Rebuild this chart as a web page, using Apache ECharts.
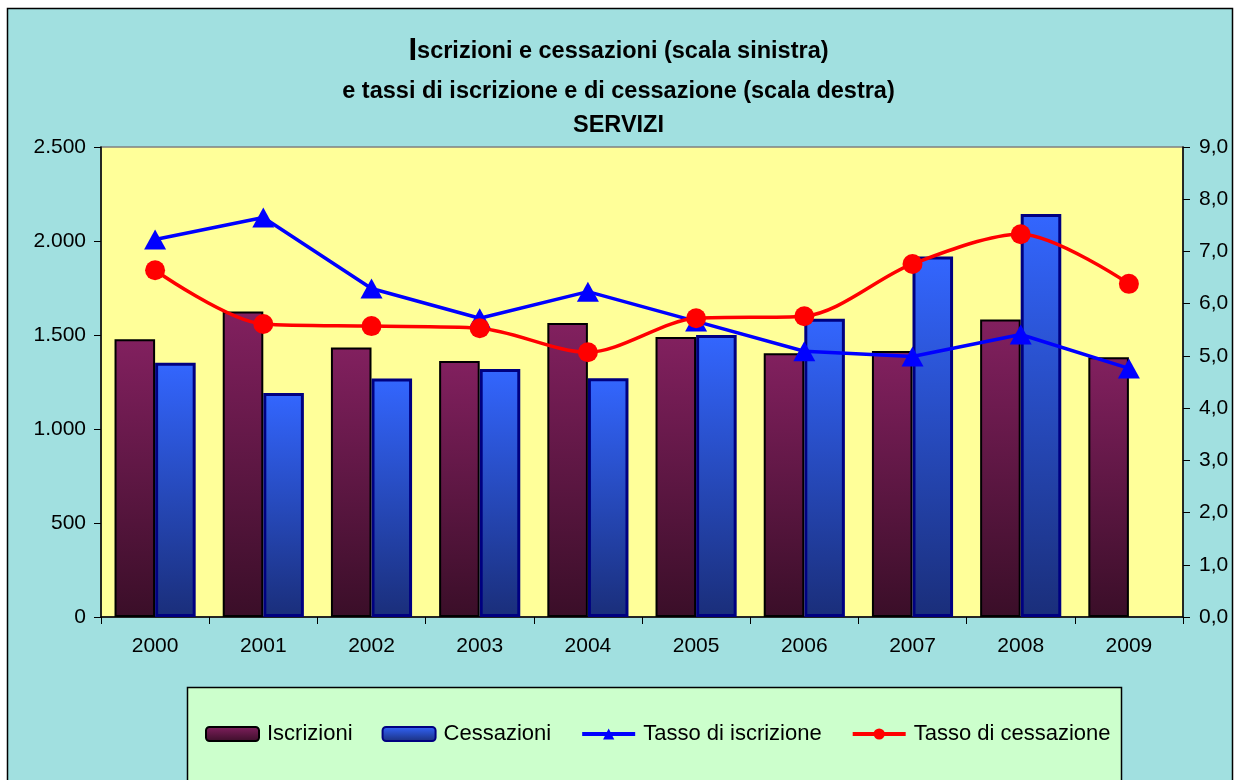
<!DOCTYPE html>
<html>
<head>
<meta charset="utf-8">
<script src="https://cdn.jsdelivr.net/npm/echarts@6/dist/echarts.min.js"></script>
<style>
html,body{margin:0;padding:0;background:#ffffff;}
#chart{width:1237px;height:780px;}
</style>
</head>
<body>
<div id="chart"></div>
<script>
var years = ['2000','2001','2002','2003','2004','2005','2006','2007','2008','2009'];
var iscrizioni = [1478, 1625, 1434, 1362, 1564, 1489, 1403, 1415, 1583, 1381];
var cessazioni = [1353, 1192, 1268, 1319, 1270, 1500, 1587, 1917, 2144, null];
var tassoIscrizione = [7.23, 7.65, 6.29, 5.72, 6.23, 5.66, 5.09, 4.99, 5.41, 4.76];
var tassoCessazione = [6.64, 5.61, 5.57, 5.53, 5.07, 5.72, 5.76, 6.76, 7.33, 6.38];
var titleLines = ['scrizioni e cessazioni (scala sinistra)', 'e tassi di iscrizione e di cessazione (scala destra)', 'SERVIZI'];

var FONT = '"Liberation Sans", Arial, sans-serif';
var chart = echarts.init(document.getElementById('chart'), null, {renderer:'canvas'});

function grad(top, bottom){
  return new echarts.graphic.LinearGradient(0,0,0,1,[{offset:0,color:top},{offset:1,color:bottom}]);
}

var option = {
  backgroundColor: '#ffffff',
  animation: false,
  textStyle: {fontFamily: FONT},
  graphic: [
    {type:'rect', z:-10, shape:{x:7.5, y:8.5, width:1225, height:780}, style:{fill:'#A1E0E0', stroke:'#000000', lineWidth:1.5}},
    {type:'rect', z:-9, shape:{x:187.5, y:687.5, width:934, height:120}, style:{fill:'#CCFFCC', stroke:'#000000', lineWidth:1.5}}
  ],
  title: [
    {text: '{a|I}' + titleLines[0], left:'center', top:31,
     textStyle:{fontFamily:FONT, fontSize:23.5, fontWeight:'bold', color:'#000',
       rich:{a:{fontFamily:FONT, fontSize:31, fontWeight:'bold', color:'#000', verticalAlign:'bottom'}}}},
    {text: titleLines[1], left:'center', top:75, textStyle:{fontFamily:FONT, fontSize:23.5, fontWeight:'bold', color:'#000'}},
    {text: titleLines[2], left:'center', top:109, textStyle:{fontFamily:FONT, fontSize:23.5, fontWeight:'bold', color:'#000'}}
  ],
  legend: {
    left: 205, top: 723, padding: 0,
    itemWidth: 53, itemHeight: 14, itemGap: 29,
    textStyle: {fontFamily:FONT, fontSize:22, color:'#000', padding:[0,0,0,3]},
    data: [
      {name:'Iscrizioni'},
      {name:'Cessazioni'},
      {name:'Tasso di iscrizione', lineStyle:{width:4}},
      {name:'Tasso di cessazione', lineStyle:{width:4}}
    ]
  },
  grid: {left:101, right:54, top:147, bottom:163, show:true, backgroundColor:'#FFFF99', borderColor:'#808080', borderWidth:1.5},
  xAxis: {
    type:'category', data: years, boundaryGap:true,
    axisLine:{lineStyle:{color:'#000', width:1.5}},
    axisTick:{show:true, length:7, lineStyle:{color:'#000'}},
    axisLabel:{fontFamily:FONT, fontSize:21, color:'#000', margin:19}
  },
  yAxis: [
    {type:'value', min:0, max:2500, interval:500, position:'left',
     splitLine:{show:false},
     axisLine:{show:true, lineStyle:{color:'#000', width:1.5}},
     axisTick:{show:true, length:7, lineStyle:{color:'#000'}},
     axisLabel:{fontFamily:FONT, fontSize:21, color:'#000', margin:15,
       formatter:function(v){ return v >= 1000 ? Math.floor(v/1000) + '.' + String(v%1000).padStart(3,'0') : String(v); }}
    },
    {type:'value', min:0, max:9, interval:1, position:'right',
     splitLine:{show:false},
     axisLine:{show:true, lineStyle:{color:'#000', width:1.5}},
     axisTick:{show:true, length:7, inside:false, lineStyle:{color:'#000'}},
     axisLabel:{fontFamily:FONT, fontSize:21, color:'#000', margin:16,
       formatter:function(v){ return v.toFixed(1).replace('.', ','); }}
    }
  ],
  series: [
    {name:'Iscrizioni', type:'bar', yAxisIndex:0, data: iscrizioni,
     barGap:'0%', barCategoryGap:'25%',
     itemStyle:{color: grad('#82205F','#3A0E28'), borderColor:'#000000', borderWidth:2}},
    {name:'Cessazioni', type:'bar', yAxisIndex:0, data: cessazioni,
     barGap:'0%', barCategoryGap:'25%',
     itemStyle:{color: grad('#3366FF','#1A2E7A'), borderColor:'#000080', borderWidth:3}},
    {name:'Tasso di iscrizione', type:'line', yAxisIndex:1, data: tassoIscrizione,
     symbol:'triangle', symbolSize:[22,20], showAllSymbol:true,
     lineStyle:{color:'#0000FF', width:3.5}, itemStyle:{color:'#0000FF'}, z:5},
    {name:'Tasso di cessazione', type:'line', yAxisIndex:1, data: tassoCessazione,
     smooth:0.3, symbol:'circle', symbolSize:20, showAllSymbol:true,
     lineStyle:{color:'#FF0000', width:3.5}, itemStyle:{color:'#FF0000'}, z:6}
  ]
};
chart.setOption(option);
</script>
</body>
</html>
